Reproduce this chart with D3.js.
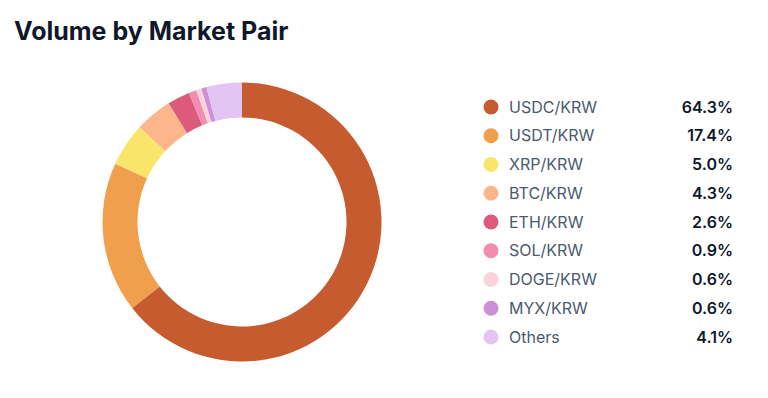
<!DOCTYPE html>
<html>
<head>
<meta charset="utf-8">
<script src="https://cdn.jsdelivr.net/npm/d3@7"></script>
<style>
  body { margin: 0; background: #fff; font-family: Inter, "Noto Sans", sans-serif; }
</style>
</head>
<body>
<div id="chart"></div>
<script>
const pairs = ["USDC/KRW", "USDT/KRW", "XRP/KRW", "BTC/KRW", "ETH/KRW", "SOL/KRW", "DOGE/KRW", "MYX/KRW", "Others"];
const shares = [64.3, 17.4, 5.0, 4.3, 2.6, 0.9, 0.6, 0.6, 4.1];
const colors = ["#c75b30", "#f0a04c", "#fae56b", "#fdb68b", "#dc5b7c", "#f08db1", "#fdd2dd", "#cc90d9", "#e3c5f3"];

const width = 768, height = 398;

const svg = d3.select("#chart")
    .append("svg")
    .attr("width", width)
    .attr("height", height);

svg.append("text")
    .attr("x", 14)
    .attr("y", 40)
    .attr("font-size", 25)
    .attr("font-weight", 700)
    .attr("fill", "#0f172a")
    .text("Volume by Market Pair");

const data = pairs.map((p, i) => ({pair: p, share: shares[i]}));

const color = d3.scaleOrdinal()
    .domain(pairs)
    .range(colors);

const outer = 139.5, inner = 104.5;

const pie = d3.pie()
    .value(d => d.share)
    .sort(null);

const arc = d3.arc()
    .innerRadius(inner)
    .outerRadius(outer);

const donut = svg.append("g")
    .attr("transform", "translate(242, 222)");

donut.selectAll("path")
    .data(pie(data))
    .enter()
    .append("path")
    .attr("d", arc)
    .attr("fill", d => color(d.data.pair));

// legend
const y = d3.scalePoint()
    .domain(pairs)
    .range([107, 337]);

const legend = svg.append("g");

const rows = legend.selectAll("g")
    .data(data)
    .enter()
    .append("g")
    .attr("transform", d => `translate(0, ${y(d.pair)})`);

rows.append("circle")
    .attr("cx", 491)
    .attr("cy", 0)
    .attr("r", 7.5)
    .attr("fill", d => color(d.pair));

rows.append("text")
    .attr("x", 509)
    .attr("dy", "0.35em")
    .attr("font-size", 16)
    .attr("fill", "#4b5a6e")
    .text(d => d.pair);

rows.append("text")
    .attr("x", 733)
    .attr("dy", "0.35em")
    .attr("text-anchor", "end")
    .attr("font-size", 16)
    .attr("font-weight", 600)
    .attr("fill", "#0f172a")
    .text(d => d.share.toFixed(1) + "%");
</script>
</body>
</html>
